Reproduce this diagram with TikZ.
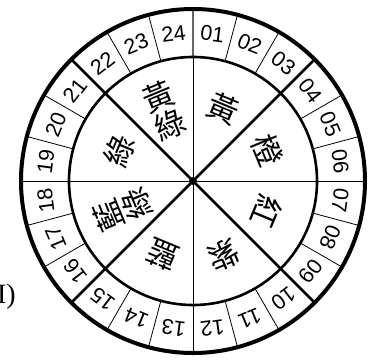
\documentclass[tikz,border=0pt]{standalone}
\usetikzlibrary{calc}
\usepackage{fontspec}
\setmainfont{Liberation Serif}
\newfontfamily\cjk{Noto Sans CJK TC}
\newfontfamily\numfont{Liberation Sans}
\begin{document}
\begin{tikzpicture}[x=1pt,y=1pt,
  numlbl/.style={font=\numfont\fontsize{21.5}{21.5}\selectfont, inner sep=0pt},
  cjklbl/.style={font=\cjk\fontsize{31}{31}\selectfont, inner sep=0pt, align=center},
  thinline/.style={line width=0.8pt, black},
  thickline/.style={line width=2.6pt, black}]
\useasboundingbox (0,-360) rectangle (372,0);
\coordinate (C) at (193,-181);
% inner spokes
\draw[thinline] ($(C)+(-124,0)$) -- ($(C)+(124,0)$);
\draw[thinline] ($(C)+(0,-124)$) -- ($(C)+(0,124)$);
\foreach \a in {45,135,225,315}
  \draw[thickline] ($(C)+(\a:124)$) -- (C);
% ring separators
\foreach \k in {0,...,23}{
  \pgfmathsetmacro{\ang}{90-15*\k}
  \ifnum\k=0
    \draw[line width=1.4pt, black!60] ($(C)+(\ang:124)$) -- ($(C)+(\ang:172)$);
  \else
    \pgfmathtruncatemacro{\m}{mod(\k,6)}
    \ifnum\m=3
      \draw[thickline] ($(C)+(\ang:124)$) -- ($(C)+(\ang:172)$);
    \else
      \draw[thinline] ($(C)+(\ang:124)$) -- ($(C)+(\ang:172)$);
    \fi
  \fi
}
% circles
\draw[line width=2.6pt] (C) circle[radius=124];
\draw[line width=4pt] (C) circle[radius=172];
\fill (C) circle[radius=4];
% numbers
\foreach \k in {1,...,24}{
  \pgfmathsetmacro{\th}{15*\k-7.5}
  \node[numlbl, rotate=-\th] (n\k) at ($(C)+(90-\th:148.5)$) {\ifnum\k<10 0\fi\k};
}
% colour names
\node[cjklbl, rotate=-22.5] (c1) at ($(C)+(67.5:78)$) {黃};
\node[cjklbl, rotate=-67.5] (c2) at ($(C)+(22.5:80)$) {橙};
\node[cjklbl, rotate=-112.5] (c3) at ($(C)+(-22.5:80)$) {紅};
\node[cjklbl, rotate=-157.5] (c4) at ($(C)+(-67.5:80)$) {紫};
\node[cjklbl, rotate=-202.5] (c5) at ($(C)+(-112.5:80)$) {藍};
\node[cjklbl, rotate=-247.5] (c6) at ($(C)+(-157.5:76)$) {藍\\綠};
\node[cjklbl, rotate=-292.5] (c7) at ($(C)+(157.5:80)$) {綠};
\node[cjklbl, rotate=-337.5] (c8) at ($(C)+(112.5:76)$) {黃\\綠};
% cut-off option label
\node[font=\fontsize{28}{28}\selectfont, anchor=east, inner sep=0pt] (opt) at (16,-297) {(II)};
\end{tikzpicture}
\end{document}
